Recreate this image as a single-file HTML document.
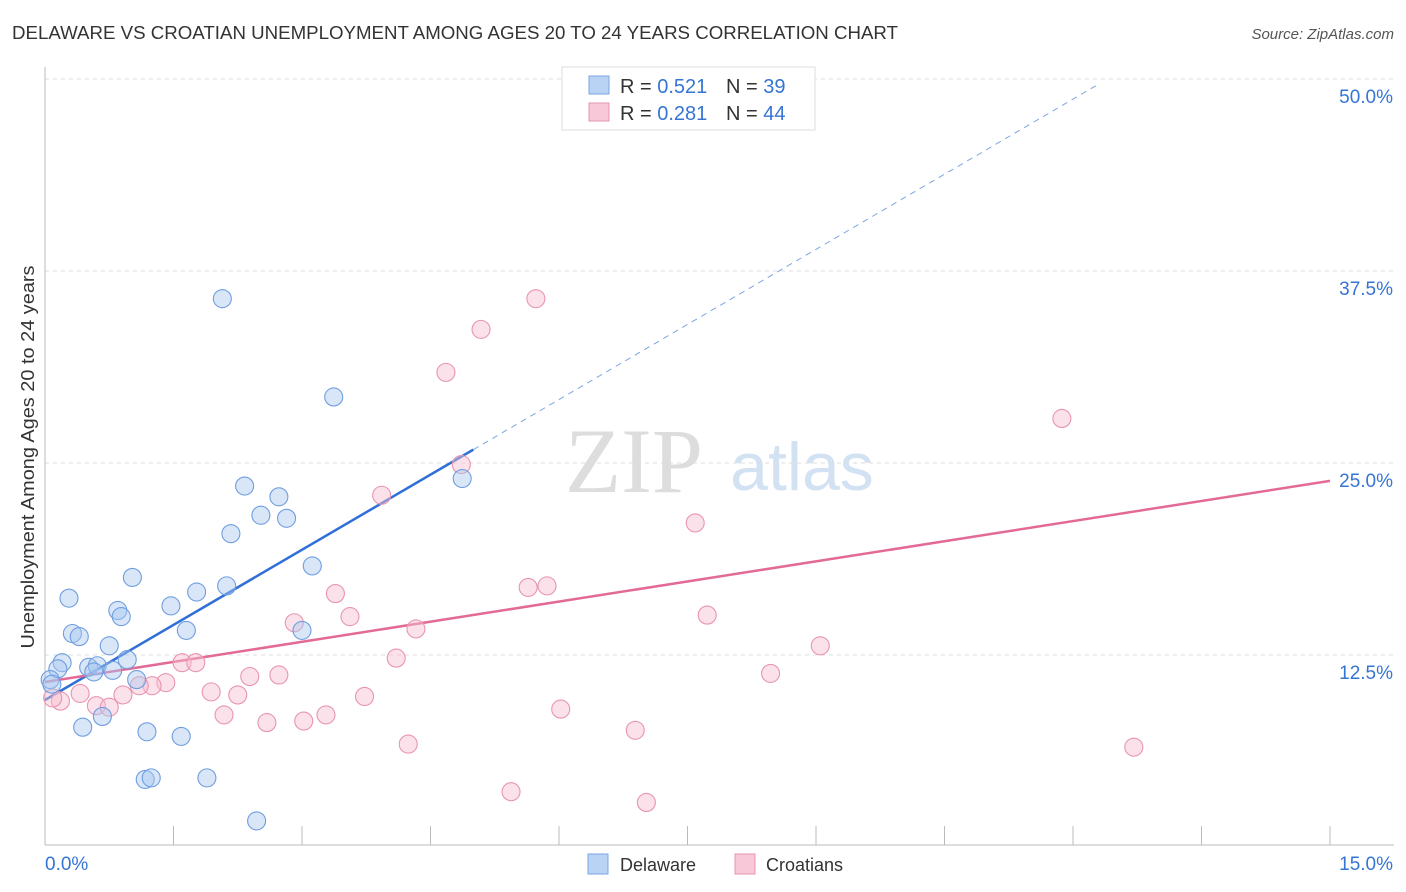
<!DOCTYPE html>
<html><head><meta charset="utf-8">
<style>
body{margin:0;background:#fff;font-family:"Liberation Sans",sans-serif;}
svg{display:block}
</style></head><body>
<svg id="chart" width="1406" height="892">
<text x="12" y="39" font-size="18" fill="#333" textLength="886" lengthAdjust="spacingAndGlyphs">DELAWARE VS CROATIAN UNEMPLOYMENT AMONG AGES 20 TO 24 YEARS CORRELATION CHART</text>
<text x="1394" y="39" font-size="15" fill="#555" font-style="italic" text-anchor="end">Source: ZipAtlas.com</text>
<text x="634" y="492" font-size="92" fill="#ddd" font-family="Liberation Serif,serif" text-anchor="middle">ZIP</text>
<text x="802" y="490" font-size="68" fill="#d3e2f3" text-anchor="middle">atlas</text>
<g id="grid"></g><g id="axes"></g><g id="lines"></g><g id="pts"></g>
<text transform="translate(34,457) rotate(-90)" font-size="18" fill="#333" text-anchor="middle" textLength="383" lengthAdjust="spacingAndGlyphs">Unemployment Among Ages 20 to 24 years</text>
<g>
<rect x="562" y="67" width="253" height="63" fill="#fff" stroke="#ddd"/>
<rect x="589" y="76" width="20" height="18" fill="#b8d3f4" stroke="#7aa6e0"/>
<rect x="589" y="103" width="20" height="18" fill="#f9c8d8" stroke="#e895b0"/>
<text x="620" y="93" font-size="20" fill="#333">R = <tspan fill="#3575d4">0.521</tspan></text>
<text x="726" y="93" font-size="20" fill="#333">N = <tspan fill="#3575d4">39</tspan></text>
<text x="620" y="120" font-size="20" fill="#333">R = <tspan fill="#3575d4">0.281</tspan></text>
<text x="726" y="120" font-size="20" fill="#333">N = <tspan fill="#3575d4">44</tspan></text>
</g>
<g>
<rect x="588" y="854" width="20" height="20" fill="#b8d3f4" stroke="#7aa6e0"/>
<text x="620" y="871" font-size="18" fill="#333">Delaware</text>
<rect x="735" y="854" width="20" height="20" fill="#f9c8d8" stroke="#e895b0"/>
<text x="766" y="871" font-size="18" fill="#333">Croatians</text>
</g>
</svg>
<script>
const yTicks=[12.5,25,37.5,50];
const yTickLabels=["12.5%","25.0%","37.5%","50.0%"];
const xTickLabels=["0.0%","15.0%"];
const delX=[2.07,3.37,2.33,2.73,2.52,2.82,2.17,4.87,3.12,1.02,0.28,2.12,1.77,1.47,0.85,0.89,0.32,0.40,1.65,3.0,0.75,0.2,0.15,0.51,0.61,0.79,0.96,0.57,0.06,1.07,0.08,0.67,0.44,1.19,1.59,1.17,1.24,1.89,2.47];
const delY=[35.7,29.3,23.5,22.8,21.6,21.4,20.4,23.99,18.3,17.55,16.2,17.0,16.6,15.7,15.4,15.0,13.9,13.7,14.1,14.1,13.1,12.0,11.6,11.7,11.8,11.5,12.2,11.4,10.9,10.9,10.6,8.5,7.8,7.5,7.2,4.4,4.5,4.5,1.7];
const croX=[6.28,5.73,5.09,4.68,4.86,3.93,11.87,7.59,5.86,5.64,3.39,3.56,7.73,2.91,4.33,9.05,4.10,1.60,1.76,2.73,2.39,8.47,1.41,1.25,1.10,0.91,1.94,2.25,0.41,3.73,0.18,0.60,0.75,0.09,2.09,3.28,3.02,2.59,6.02,4.24,6.89,12.71,5.44,7.02];
const croY=[49.9,35.7,33.7,30.9,24.9,22.9,27.9,21.1,17.0,16.9,16.5,15.0,15.1,14.6,14.2,13.1,12.3,12.0,12.0,11.2,11.1,11.3,10.7,10.5,10.5,9.9,10.1,9.9,10.0,9.8,9.5,9.2,9.1,9.7,8.6,8.6,8.2,8.1,8.98,6.7,7.6,6.5,3.6,2.9];
const fitDel=[9.57,3.26];
const fitCro=[10.74,0.873];
const X=v=>45+v*(1285/15), Y=v=>847-v*15.36;
const ns="http://www.w3.org/2000/svg";
function mk(p,t,a){const e=document.createElementNS(ns,t);for(const k in a)e.setAttribute(k,a[k]);document.getElementById(p).appendChild(e);return e;}
yTicks.forEach((t,i)=>{
 const g=mk('grid','line',{x1:45,x2:1394,y1:Y(t),y2:Y(t),stroke:'#ddd','stroke-dasharray':'4,4'});
 
 
 const l=mk('axes','text',{x:1393,y:Y(t)+24,'font-size':19,fill:'#3575d4','text-anchor':'end'});l.textContent=yTickLabels[i];
 
 
});
mk('axes','line',{x1:45,x2:45,y1:67,y2:845,stroke:'#bbb'});
mk('axes','line',{x1:45,x2:1394,y1:845,y2:845,stroke:'#bbb'});
for(let i=1;i<=10;i++){const x=X(i*1.5);const t=mk('axes','line',{x1:x,x2:x,y1:826,y2:845,stroke:'#bbb'});
 
 }
[[0,'start',45],[1,'end',1393]].forEach(([i,a,x])=>{const t=mk('axes','text',{x:x,y:870,'font-size':19,fill:'#3575d4','text-anchor':a});t.textContent=xTickLabels[i];
 
 });
function pts(xs,ys,fill,stroke,name){xs.forEach((x,i)=>{const c=mk('pts','circle',{cx:X(x),cy:Y(ys[i]),r:9,fill:fill,'fill-opacity':0.45,stroke:stroke,'stroke-width':1.1});
 
 });}
pts(croX,croY,'#f6bfd0','#e895b0','croatians-point');
pts(delX,delY,'#a8c8f0','#6f9ee0','delaware-point');
const ln1=mk('lines','line',{x1:X(0),y1:Y(fitDel[0]),x2:X(5),y2:Y(fitDel[0]+5*fitDel[1]),stroke:'#2f6fd6','stroke-width':2.5});


const ln2=mk('lines','line',{x1:X(5),y1:Y(fitDel[0]+5*fitDel[1]),x2:X(12.3),y2:Y(fitDel[0]+12.3*fitDel[1]),stroke:'#7aa6e0','stroke-width':1,'stroke-dasharray':'6,5'});


const ln3=mk('lines','line',{x1:X(0),y1:Y(fitCro[0]),x2:X(15),y2:Y(fitCro[0]+15*fitCro[1]),stroke:'#e36a96','stroke-width':2.5});


</script>
</body></html>
